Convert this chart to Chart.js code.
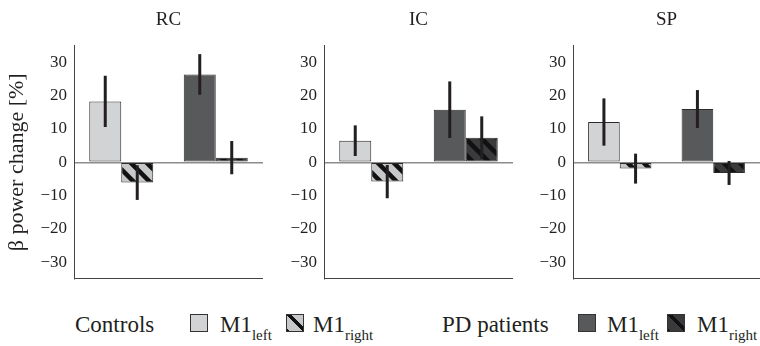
<!DOCTYPE html>
<html>
<head>
<meta charset="utf-8">
<script src="https://cdn.jsdelivr.net/npm/chart.js@4.4.1/dist/chart.umd.min.js"></script>
<style>
  html, body { margin: 0; padding: 0; background: #fff; }
  #wrap { position: relative; width: 760px; height: 346px; overflow: hidden; font-family: 'Liberation Serif', 'Times New Roman', Times, serif; color: #231f20; }
  #wrap canvas { position: absolute; top: 0; }
  .lg { position: absolute; top: 313px; font-size: 23px; line-height: 23px; white-space: nowrap; }
  .lg sub { font-size: 15px; line-height: 1; vertical-align: baseline; position: relative; top: 8px; }
  .sw { position: absolute; top: 314px; width: 16px; height: 16px; border: 1px solid #333; }
</style>
</head>
<body>
<div id="wrap">
  <canvas id="p0" width="263" height="296" style="left:0"></canvas>
  <canvas id="p1" width="250" height="296" style="left:263px"></canvas>
  <canvas id="p2" width="247" height="296" style="left:513px"></canvas>

  <span class="lg" style="left:75px">Controls</span>
  <div class="sw" style="left:190px; background:#d1d3d4"></div>
  <span class="lg" style="left:220px">M1<sub>left</sub></span>
  <div class="sw" style="left:286px; background:repeating-linear-gradient(45deg, #111 0 2px, #c7c8ca 2px 10.7px, #111 10.7px 12.7px)"></div>
  <span class="lg" style="left:313px">M1<sub>right</sub></span>

  <span class="lg" style="left:442px">PD patients</span>
  <div class="sw" style="left:578px; background:#58595b"></div>
  <span class="lg" style="left:607px">M1<sub>left</sub></span>
  <div class="sw" style="left:667px; background:repeating-linear-gradient(45deg, #111 0 2px, #3a3a3c 2px 10.7px, #111 10.7px 12.7px)"></div>
  <span class="lg" style="left:697px">M1<sub>right</sub></span>
</div>
<script>
// panels and groups
const PANELS = ['RC', 'IC', 'SP'];
const GROUPS = ['Controls', 'PD patients'];

// beta power change [%] per panel (RC, IC, SP), with error half-widths
const ctrlLeft     = [18.3, 6.5, 12.1];
const ctrlLeftErr  = [7.7, 4.6, 7.1];
const ctrlRight    = [-6.1, -5.8, -1.9];
const ctrlRightErr = [5.2, 5.0, 4.5];
const pdLeft       = [26.4, 15.8, 16.0];
const pdLeftErr    = [6.1, 8.5, 5.7];
const pdRight      = [1.4, 7.4, -3.2];
const pdRightErr   = [5.0, 6.4, 3.6];

const yTicks = [-30, -20, -10, 0, 10, 20, 30];

const FONT = "'Liberation Serif', 'Times New Roman', Times, serif";
const INK = '#231f20';
const LIGHT = '#d1d3d4', DARK = '#58595b';
const LIGHT_H = '#c7c8ca', DARK_H = '#3a3a3c';
const AXIS_W = [74, 61, 60];

// diagonal "\" stripes
function hatch(base) {
    const c = document.createElement('canvas');
    c.width = c.height = 16;
    const g = c.getContext('2d');
    g.fillStyle = base;
    g.fillRect(0, 0, 16, 16);
    g.strokeStyle = '#111';
    g.lineWidth = 4.5;
    for (let k = -1; k <= 1; k++) {
        g.beginPath();
        g.moveTo(-16, -16 + 16 * k);
        g.lineTo(32, 32 + 16 * k);
        g.stroke();
    }
    return g.createPattern(c, 'repeat');
}

const errorBars = {
    id: 'errorBars',
    afterDatasetsDraw(chart) {
        const ctx = chart.ctx, y = chart.scales.y;
        ctx.save();
        ctx.strokeStyle = INK;
        ctx.lineWidth = 3;
        chart.data.datasets.forEach((ds, di) => {
            chart.getDatasetMeta(di).data.forEach((bar, j) => {
                const v = ds.data[j], e = ds.err[j];
                ctx.beginPath();
                ctx.moveTo(bar.x, y.getPixelForValue(v + e));
                ctx.lineTo(bar.x, y.getPixelForValue(v - e));
                ctx.stroke();
            });
        });
        ctx.restore();
    }
};

PANELS.forEach((name, i) => {
    new Chart(document.getElementById('p' + i), {
        type: 'bar',
        data: {
            labels: GROUPS,
            datasets: [
                {
                    label: 'M1 left',
                    data: [ctrlLeft[i], pdLeft[i]],
                    err: [ctrlLeftErr[i], pdLeftErr[i]],
                    backgroundColor: [LIGHT, DARK],
                },
                {
                    label: 'M1 right',
                    data: [ctrlRight[i], pdRight[i]],
                    err: [ctrlRightErr[i], pdRightErr[i]],
                    backgroundColor: [hatch(LIGHT_H), hatch(DARK_H)],
                },
            ],
        },
        options: {
            responsive: false,
            animation: false,
            events: [],
            layout: { padding: { top: 0, right: 0, bottom: 11, left: 0 } },
            datasets: {
                bar: { categoryPercentage: 0.677, barPercentage: 1, borderWidth: 1, borderColor: '#2b2b2b', borderSkipped: false },
            },
            plugins: {
                legend: { display: false },
                tooltip: { enabled: false },
                title: {
                    display: true,
                    text: name,
                    fullSize: false,
                    color: INK,
                    font: { family: FONT, size: 19, weight: 'normal' },
                    padding: { top: 9, bottom: 14 },
                },
            },
            scales: {
                x: {
                    grid: { display: false, drawTicks: false },
                    ticks: { display: false },
                    border: { display: true, color: '#444', width: 1 },
                    afterFit: s => { s.height = 0; },
                },
                y: {
                    min: -35,
                    max: 35,
                    afterBuildTicks: s => { s.ticks = yTicks.map(v => ({ value: v })); },
                    afterFit: s => { s.width = AXIS_W[i]; },
                    grid: {
                        drawTicks: false,
                        lineWidth: 1.5,
                        color: c => (c.tick && c.tick.value === 0 ? '#8c8c8c' : 'rgba(0,0,0,0)'),
                    },
                    border: { color: '#444', width: 1 },
                    ticks: {
                        padding: 7,
                        color: INK,
                        font: { family: FONT, size: 17 },
                        callback: v => (v < 0 ? '\u2212' + Math.abs(v) : String(v)),
                    },
                    title: {
                        display: i === 0,
                        text: 'β power change [%]',
                        color: INK,
                        font: { family: FONT, size: 22 },
                        padding: { top: 4, bottom: 0 },
                    },
                },
            },
        },
        plugins: [errorBars],
    });
});
</script>
</body>
</html>
